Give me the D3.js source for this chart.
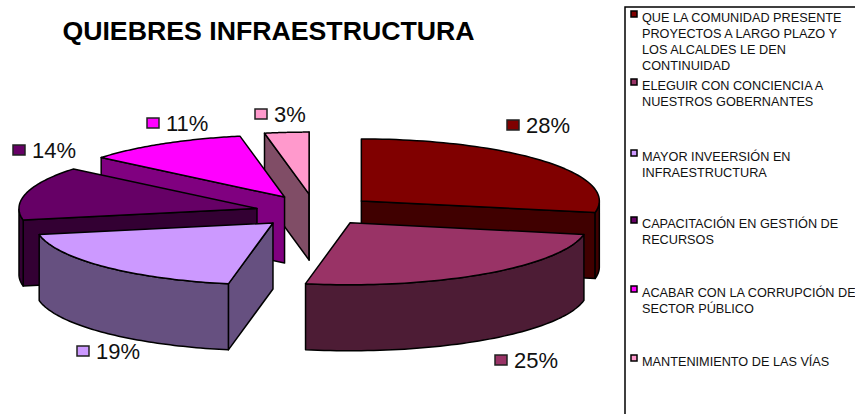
<!DOCTYPE html><html lang="es"><head><meta charset="UTF-8"><title>QUIEBRES INFRAESTRUCTURA</title><script src="https://d3js.org/d3.v7.min.js"></script><style>
        body { margin: 0; background: #fff; overflow: hidden; }
        svg { display: block; font-family: "Liberation Sans", Arial, sans-serif; }
    </style></head><body><svg id="chart" width="855" height="414"></svg><script>
        const categories = [
            ["QUE LA COMUNIDAD PRESENTE", "PROYECTOS A LARGO PLAZO Y", "LOS ALCALDES LE DEN", "CONTINUIDAD"],
            ["ELEGUIR CON CONCIENCIA A", "NUESTROS GOBERNANTES"],
            ["MAYOR INVEERSIÓN EN", "INFRAESTRUCTURA"],
            ["CAPACITACIÓN EN GESTIÓN DE", "RECURSOS"],
            ["ACABAR CON LA CORRUPCIÓN DE", "SECTOR PÚBLICO"],
            ["MANTENIMIENTO DE LAS VÍAS"]
        ];
        const values = [28, 25, 19, 14, 11, 3];
        const topColors = ["#800000", "#993366", "#cc99ff", "#660066", "#ff00ff", "#ff99cc"];
        const wallColors = ["#400000", "#4d1c35", "#665080", "#330033", "#800080", "#804d66"];

        // explosion of each slice along its mid angle (fraction of radius, x and y)
        const explodeX = [0.28, 0.30, 0.22, 0.23, 0.21, 0.04];
        const explodeY = [0.28, 0.21, 0.25, 0.23, 0.28, 0.29];
        // back slices first
        const drawOrder = [5, 4, 3, 2, 0, 1];

        // label anchor: marker left, centre y
        const labelX = [507, 495, 77, 13, 147, 255];
        const labelY = [125, 360, 351, 150, 123, 114];
        const legendY = [17, 85, 156, 223, 292, 361];

        const svg = d3.select("#chart");
        const cx = 310, cy = 212, rx = 238, ry = 62, depth = 66;

        const x = d3.scaleLinear().domain([-1, 1]).range([cx - rx, cx + rx]);
        const y = d3.scaleLinear().domain([-1, 1]).range([cy + ry, cy - ry]);

        const pie = d3.pie().sort(null)(values);
        const line = d3.line();

        function drawSlice(i) {
            const d = pie[i];
            const mid = (d.startAngle + d.endAngle) / 2;
            const ox = explodeX[i] * Math.sin(mid);
            const oy = explodeY[i] * Math.cos(mid);
            const pt = a => [x(ox + Math.sin(a)), y(oy + Math.cos(a))];
            const apex = [x(ox), y(oy)];
            const down = p => [p[0], p[1] + depth];

            const steps = d3.range(0, 61).map(k => d.startAngle + (d.endAngle - d.startAngle) * k / 60);
            const arc = steps.map(pt);
            const g = svg.append("g").attr("stroke", "#000").attr("stroke-width", 1.5).attr("stroke-linejoin", "round");

            // radial walls, only where they face the viewer
            const wall = a => {
                const p = pt(a);
                g.append("path").attr("fill", wallColors[i])
                    .attr("d", line([apex, p, down(p), down(apex)]) + "Z");
            };
            if (Math.sin(d.startAngle) < 0) wall(d.startAngle);
            if (Math.sin(d.endAngle) > 0) wall(d.endAngle);

            // outer wall, only the part that faces the viewer
            const front = steps.filter(a => Math.cos(a) <= 0).map(pt);
            if (front.length > 1) {
                g.append("path").attr("fill", wallColors[i])
                    .attr("d", line(front.concat(front.slice().reverse().map(down))) + "Z");
            }
            // top face
            g.append("path").attr("fill", topColors[i])
                .attr("d", line([apex].concat(arc)) + "Z");
        }
        drawOrder.forEach(drawSlice);

        // title
        svg.append("text").attr("x", 268.5).attr("y", 40).attr("text-anchor", "middle")
            .attr("font-size", 26.7).attr("font-weight", "bold").attr("fill", "#000")
            .text("QUIEBRES INFRAESTRUCTURA");

        // data labels
        const labels = svg.selectAll(".label").data(values).enter().append("g").attr("class", "label");
        labels.append("rect")
            .attr("x", (d, i) => labelX[i]).attr("y", (d, i) => labelY[i] - 5)
            .attr("width", 12).attr("height", 10)
            .attr("fill", (d, i) => topColors[i]).attr("stroke", "#222").attr("stroke-width", 1.5);
        labels.append("text")
            .attr("x", (d, i) => labelX[i] + 19).attr("y", (d, i) => labelY[i] + 8)
            .attr("font-size", 22).attr("fill", "#111")
            .text(d => d + "%");

        // legend box, runs off the right and bottom of the picture
        svg.append("rect").attr("x", 625).attr("y", 7).attr("width", 260).attr("height", 440)
            .attr("fill", "none").attr("stroke", "#000").attr("stroke-width", 1.5);

        const legend = svg.selectAll(".legend").data(categories).enter().append("g").attr("class", "legend");
        legend.append("rect")
            .attr("x", 631).attr("y", (d, i) => legendY[i] - 6)
            .attr("width", 6).attr("height", 6)
            .attr("fill", (d, i) => topColors[i]).attr("stroke", "#000").attr("stroke-width", 1.5);
        legend.each(function (lines, i) {
            d3.select(this).selectAll("text").data(lines).enter().append("text")
                .attr("x", 642).attr("y", (l, k) => legendY[i] + 4.5 + k * 16)
                .attr("font-size", 12.7).attr("fill", "#111")
                .text(l => l);
        });
    </script></body></html>
